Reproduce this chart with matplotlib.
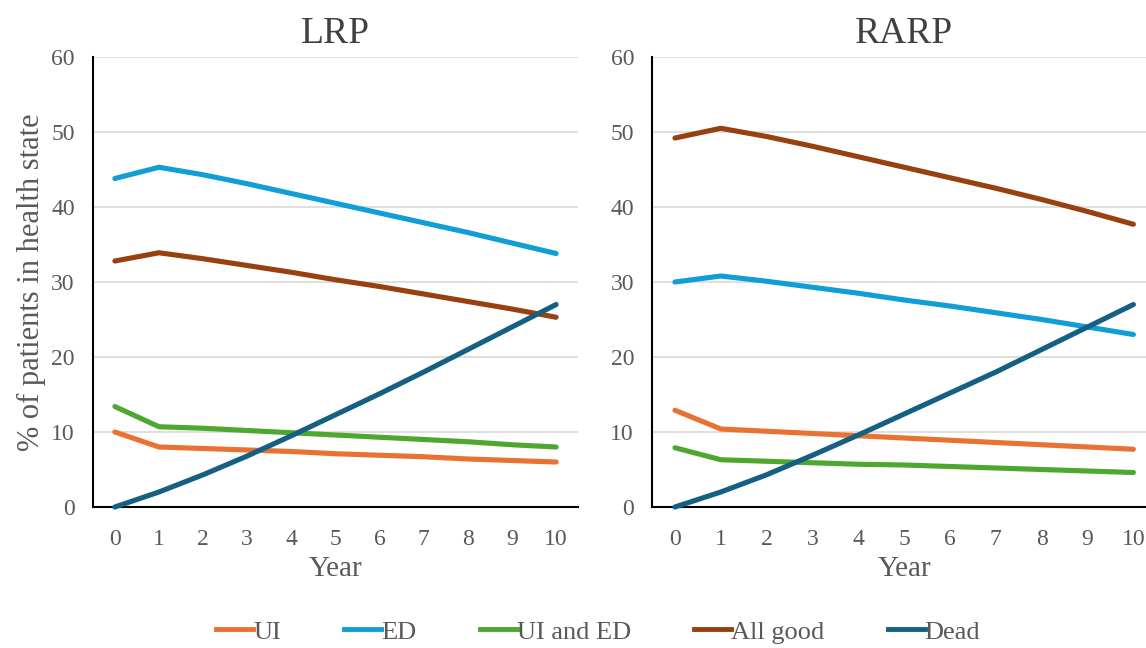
import matplotlib
import matplotlib.pyplot as plt
from matplotlib.lines import Line2D

matplotlib.use('Agg')

plt.rcParams['font.family'] = ['Liberation Serif', 'DejaVu Serif']

years = list(range(11))
series_names = ["UI", "ED", "UI and ED", "All good", "Dead"]
colors = ["#E97132", "#0F9ED5", "#4EA72E", "#98400F", "#156082"]

# LRP values (% of patients)
lrp_ui = [10.0, 8.0, 7.8, 7.6, 7.4, 7.1, 6.9, 6.7, 6.4, 6.2, 6.0]
lrp_ed = [43.8, 45.3, 44.3, 43.1, 41.8, 40.5, 39.2, 37.9, 36.6, 35.2, 33.8]
lrp_ui_ed = [13.4, 10.7, 10.5, 10.2, 9.9, 9.6, 9.3, 9.0, 8.7, 8.3, 8.0]
lrp_good = [32.8, 33.9, 33.1, 32.2, 31.3, 30.3, 29.4, 28.4, 27.4, 26.4, 25.3]
lrp_dead = [0.0, 2.0, 4.3, 6.8, 9.5, 12.3, 15.1, 18.0, 21.0, 24.0, 27.0]

# RARP values (% of patients)
rarp_ui = [12.9, 10.4, 10.1, 9.8, 9.5, 9.2, 8.9, 8.6, 8.3, 8.0, 7.7]
rarp_ed = [30.0, 30.8, 30.1, 29.3, 28.5, 27.6, 26.8, 25.9, 25.0, 24.0, 23.0]
rarp_ui_ed = [7.9, 6.3, 6.1, 5.9, 5.7, 5.6, 5.4, 5.2, 5.0, 4.8, 4.6]
rarp_good = [49.2, 50.5, 49.4, 48.1, 46.7, 45.3, 43.9, 42.5, 41.0, 39.4, 37.7]
rarp_dead = [0.0, 2.0, 4.3, 6.9, 9.6, 12.4, 15.2, 18.0, 21.0, 24.0, 27.0]

panels = [
    ("LRP", [lrp_ui, lrp_ed, lrp_ui_ed, lrp_good, lrp_dead]),
    ("RARP", [rarp_ui, rarp_ed, rarp_ui_ed, rarp_good, rarp_dead]),
]

fig = plt.figure(figsize=(11.46, 6.48), dpi=100)
ax_l = fig.add_axes([0.081, 0.2176, 0.4235, 0.6944])
ax_r = fig.add_axes([0.569, 0.2176, 0.44, 0.6944])

for ax, (title, data) in zip([ax_l, ax_r], panels):
    for vals, col in zip(data, colors):
        ax.plot(years, vals, color=col, lw=3.7, solid_capstyle='round', clip_on=False, zorder=3)
    ax.set_xlim(-0.5, 10.5)
    ax.set_ylim(0, 60)
    ax.set_xticks(years)
    ax.set_yticks(range(0, 61, 10))
    ax.grid(axis='y', color='#D9D9D9', lw=1.2)
    ax.set_axisbelow(True)
    for s in ['top', 'right']:
        ax.spines[s].set_visible(False)
    for s in ['left', 'bottom']:
        ax.spines[s].set_color('black')
        ax.spines[s].set_linewidth(1.5)
    ax.tick_params(length=0, labelsize=17, labelcolor='#595959', pad=16)
    ax.tick_params(axis='y', pad=13)
    ax.set_title(title, fontsize=27, color='#404040', pad=10)
    ax.set_xlabel('Year', fontsize=21, color='#595959', labelpad=4)

ax_l.set_ylabel('% of patients in health state', fontsize=22, color='#595959', labelpad=4)

handles = [Line2D([0], [0], color=c, lw=3.5) for c in colors]
fig.legend(handles, series_names, loc='center', bbox_to_anchor=(0.522, 0.025),
           ncol=5, frameon=False, fontsize=19, handlelength=1.4, handletextpad=0.0,
           columnspacing=2.4, labelcolor='#595959')

fig.savefig('out.png', dpi=100)
